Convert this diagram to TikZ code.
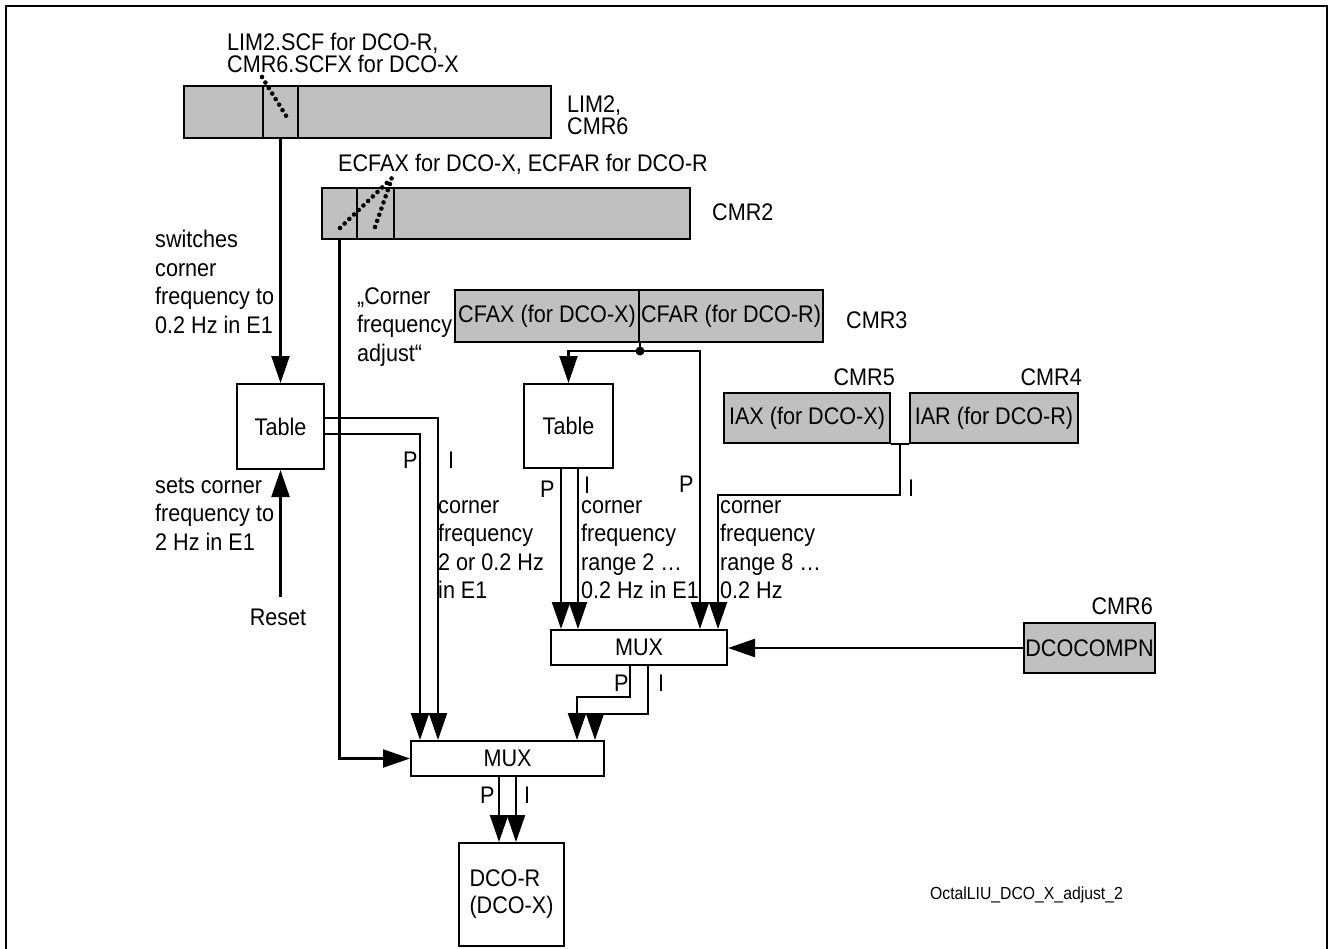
\documentclass[tikz,border=0pt]{standalone}
\usepackage{fontspec}
\setmainfont{Liberation Sans}[FakeStretch=0.9]
\usetikzlibrary{arrows.meta, calc}
\definecolor{regfill}{RGB}{192,192,192}
\tikzset{
  every node/.style={font=\fontsize{24}{28.5}\selectfont},
  box/.style={draw, line width=2pt, inner sep=0pt, anchor=north west},
  reg/.style={box, fill=regfill},
  wire/.style={line width=2.2pt},
  arr/.style={wire, -{Triangle[length=27pt,width=18pt]}},
  txt/.style={anchor=base west, inner sep=0pt, align=left},
  tight/.style={font=\fontsize{24}{22}\selectfont},
  pick/.style={line width=4.6pt, dash pattern=on 0pt off 6.5pt, line cap=round},
}

\begin{document}
\begin{tikzpicture}[x=1pt, y=-1pt]
\useasboundingbox (0,0) rectangle (1329,949);
\draw[line width=2pt] (6,949) -- (6,6) -- (1327,6) -- (1327,949);

% registers
\node[reg, minimum width=79, minimum height=52] (lim2a) at (183,85) {};
\node[reg, minimum width=35, minimum height=52] (lim2scf) at (262,85) {};
\node[reg, minimum width=253, minimum height=52] (lim2b) at (297,85) {};
\node[reg, minimum width=35, minimum height=51] (ecfax) at (321,187) {};
\node[reg, minimum width=37, minimum height=51] (ecfar) at (356,187) {};
\node[reg, minimum width=296, minimum height=51] (cmr2b) at (393,187) {};
\node[reg, minimum width=184, minimum height=52] (cfax) at (454,289) {CFAX (for DCO-X)};
\node[reg, minimum width=184, minimum height=52] (cfar) at (638,289) {CFAR (for DCO-R)};
\node[reg, minimum width=166, minimum height=50] (iax) at (723,392) {IAX (for DCO-X)};
\node[reg, minimum width=168, minimum height=50] (iar) at (909,392) {IAR (for DCO-R)};
\node[reg, minimum width=131, minimum height=50] (dcocomp) at (1023,622) {DCOCOMPN};

% blocks
\node[box, minimum width=87, minimum height=85] (tab1) at (236,383) {Table};
\node[box, minimum width=89, minimum height=84] (tab2) at (523,383) {Table};
\node[box, minimum width=176, minimum height=35] (mux1) at (550,629) {MUX};
\node[box, minimum width=193, minimum height=35] (mux2) at (410,740) {MUX};
\node[box, minimum width=105, minimum height=103, align=left,
      font=\fontsize{24}{27}\selectfont] (dco) at (458,842) {DCO-R\\(DCO-X)};

% bit pickers
\draw[pick] (262,77) -- (288,119);
\draw[pick] (340,228) -- (392,178);
\draw[pick] (375,227) -- (392,178);

% connectors
\draw[arr] (lim2scf.south) -- (tab1.north);
\node[inner sep=0pt, anchor=base] (reset) at (278,625) {Reset};
\draw[arr] ($(tab1.south |- reset.north)+(0,-11)$) -- (tab1.south);
\draw[arr] (ecfax.south) |- (mux2.west);

\coordinate (cfsplit) at ($(cfax.south east)+(0,8)$);
\draw[wire] (cfax.south east) -- (cfsplit);
\fill (cfsplit) circle[radius=4.5pt];
\draw[arr] (cfsplit) -| (tab2.north);
\draw[arr] (cfsplit) -| ($(mux1.north)+(61,0)$);

\draw[wire] (iax.south east) -- (iar.south west);
\coordinate (iajoin) at ($(iax.south east)!.5!(iar.south west)$);
\draw[arr] (iajoin) -- ++(0,51) -| ($(mux1.north)+(79,0)$);

\draw[arr] ($(tab2.south)+(-7.5,0)$) -- ($(tab2.south |- mux1.north)+(-7.5,0)$);
\draw[arr] ($(tab2.south)+(9.5,0)$) -- ($(tab2.south |- mux1.north)+(9.5,0)$);

\draw[arr] ($(tab1.east)+(0,-8.5)$) -| ($(mux2.north)+(-69.5,0)$);
\draw[arr] ($(tab1.east)+(0,7.5)$) -| ($(mux2.north)+(-87.5,0)$);

\draw[arr] ($(mux1.south)+(-9,0)$) -- ++(0,31) -| ($(mux2.north)+(69.5,0)$);
\draw[arr] ($(mux1.south)+(9,0)$) -- ++(0,48) -| ($(mux2.north)+(87.5,0)$);

\draw[arr] ($(mux2.south)+(-8.5,0)$) -- ($(mux2.south |- dco.north)+(-8.5,0)$);
\draw[arr] ($(mux2.south)+(8.5,0)$) -- ($(mux2.south |- dco.north)+(8.5,0)$);

\draw[arr] (dcocomp.west) -- (dcocomp.west -| mux1.east);

% labels (multi-line: anchored at last baseline)
\node[txt, tight] (scflbl) at (227,73) {LIM2.SCF for DCO-R,\\CMR6.SCFX for DCO-X};
\node[txt, tight] (lim2lbl) at (567,135) {LIM2,\\CMR6};
\node[txt] (ecflbl) at (338,172) {ECFAX for DCO-X, ECFAR for DCO-R};
\node[txt] (cmr2lbl) at (712,221) {CMR2};
\node[txt] (cmr3lbl) at (846,328) {CMR3};
\node[txt, anchor=base east] (cmr5lbl) at (895,385) {CMR5};
\node[txt, anchor=base east] (cmr4lbl) at (1082,385) {CMR4};
\node[txt, anchor=base east] (cmr6lbl) at (1153,614) {CMR6};

\node[txt] (swlbl) at (155,333.5) {switches\\corner\\frequency to\\0.2 Hz in E1};
\node[txt] (setlbl) at (155,550) {sets corner\\frequency to\\2 Hz in E1};
\node[txt] (adjlbl) at (357,361) {„Corner\\frequency\\adjust“};
\node[txt] (cf1lbl) at (438,598.5) {corner\\frequency\\2 or 0.2 Hz\\in E1};
\node[txt] (cf2lbl) at (581,598.5) {corner\\frequency\\range 2 …\\0.2 Hz in E1};
\node[txt] (cf3lbl) at (720,598.5) {corner\\frequency\\range 8 …\\0.2 Hz};

% P / I tags
\node[txt] (p1) at (403,468) {P};
\node[txt] (i1) at (448,468) {I};
\node[txt] (p2) at (540,497) {P};
\node[txt] (i2) at (584,493) {I};
\node[txt] (p3) at (679,492) {P};
\node[txt] (i3) at (908,496) {I};
\node[txt] (p4) at (614,691) {P};
\node[txt] (i4) at (658,691) {I};
\node[txt] (p5) at (480,803) {P};
\node[txt] (i5) at (524,803) {I};

\node[txt, font=\fontsize{17.5}{20}\selectfont] (figid) at (930,899) {OctalLIU\_DCO\_X\_adjust\_2};
\end{tikzpicture}
\end{document}
